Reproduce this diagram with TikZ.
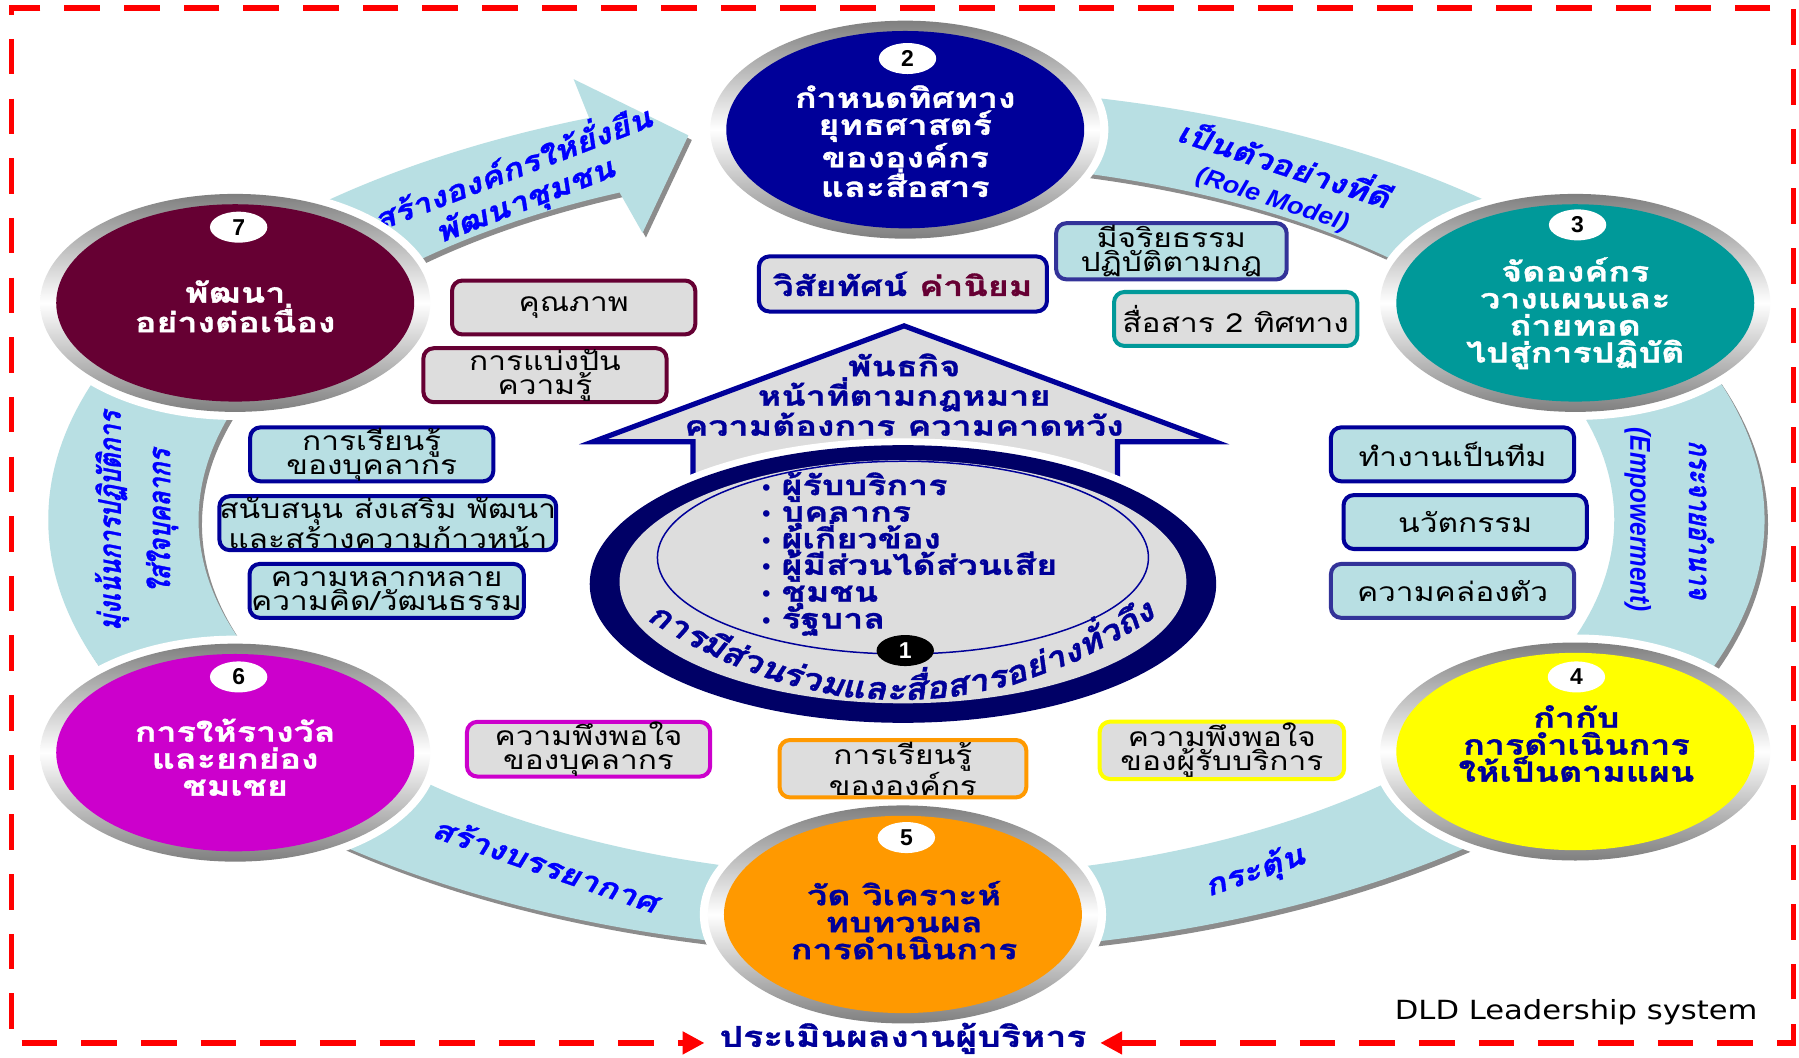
\documentclass[tikz,border=0pt]{standalone}
\usepackage{fontspec}
\usetikzlibrary{arrows.meta,shapes.geometric}
\newfontfamily\thB[Script=Thai,FakeStretch=1.3,BoldFeatures={FakeBold=1.2}]{Loma}
\newfontfamily\thV[Script=Thai,FakeStretch=0.8,FakeSlant=0.2,BoldFeatures={FakeBold=1}]{Loma}
\newfontfamily\thL[Script=Thai,FakeStretch=1.2,FakeSlant=0.22,BoldFeatures={FakeBold=1}]{Loma}
\newfontfamily\thC[Script=Thai,FakeStretch=1.15,FakeSlant=0.22,BoldFeatures={FakeBold=1.2}]{Loma}
\newfontfamily\thR[Script=Thai,FakeStretch=1.2]{Loma}
\newfontfamily\enL[FakeStretch=1.1]{Liberation Sans}
\newfontfamily\enLV[FakeStretch=0.85]{Liberation Sans}
\newfontfamily\enD[FakeStretch=1.16]{DejaVu Sans}
\newfontfamily\numF{Liberation Sans}
\newcommand\ctfont{\thC\bfseries\fontsize{27}{27}\selectfont}
\newlength\chunkw
\definecolor{navy}{HTML}{000099}
\definecolor{darknavy}{HTML}{000066}
\definecolor{navytwo}{HTML}{333399}
\definecolor{bandblue}{HTML}{B8DFE3}
\definecolor{boxgray}{HTML}{DDDDDD}
\definecolor{lblue}{HTML}{0000FF}
\definecolor{cteal}{HTML}{009999}
\definecolor{cyellow}{HTML}{FFFF00}
\definecolor{corange}{HTML}{FF9900}
\definecolor{cmagenta}{HTML}{CC00CC}
\definecolor{cmaroon}{HTML}{660033}
\definecolor{shadowgray}{HTML}{8C8C8C}
\definecolor{ringgray}{HTML}{7F7F7F}
\definecolor{bordred}{HTML}{FF0000}
\newcommand\ringseg[2]{%
 \fill[shadowgray,shift={(3,4)}] plot[domain=#1:#2,samples=60,variable=\ang]({790+748*cos(\ang)},{453+377*sin(\ang)}) -- plot[domain=#2:#1,samples=60,variable=\ang]({790+617*cos(\ang)},{453+312*sin(\ang)}) -- cycle;
 \fill[bandblue] plot[domain=#1:#2,samples=60,variable=\ang]({790+748*cos(\ang)},{453+377*sin(\ang)}) -- plot[domain=#2:#1,samples=60,variable=\ang]({790+617*cos(\ang)},{453+312*sin(\ang)}) -- cycle;
}
\newcommand\stepcircle[3]{%
 \fill[white] (#2) ellipse [x radius=177, y radius=102];
 \shade[top color=ringgray, bottom color=ringgray, middle color=white] (#2) ellipse [x radius=170, y radius=95];
 \node[ellipse, fill=#3, minimum width=312pt, minimum height=172pt, inner sep=0pt] (#1) at (#2) {};
}
\begin{document}
% measure the syllables of the curved text before the picture
\settowidth\chunkw{\ctfont การมีส่วนร่วมและสื่อสารอย่างทั่วถึง}%
\xdef\totwidth{\the\chunkw}%
\def\mkw#1#2{\settowidth\chunkw{\ctfont #2}\expandafter\xdef\csname cw#1\endcsname{\the\chunkw}}%
\mkw{1}{การ}\mkw{2}{มี}\mkw{3}{ส่วน}\mkw{4}{ร่วม}\mkw{5}{และ}%
\mkw{6}{สื่อ}\mkw{7}{สาร}\mkw{8}{อย่าง}\mkw{9}{ทั่ว}\mkw{10}{ถึง}%
\begin{tikzpicture}[x=1pt,y=-1pt,
  ctext/.style={align=center, inner sep=0pt, font=\thB\bfseries\fontsize{24}{23.5}\selectfont},
  badge/.style={ellipse, fill=white, minimum width=50pt, minimum height=27pt, inner sep=0pt, font=\numF\bfseries\fontsize{20}{20}\selectfont},
  infobox/.style={rounded corners=9pt, line width=3.5pt, minimum width=212pt, minimum height=47pt, inner sep=0pt, align=center, text=black, font=\thR\fontsize{23}{21}\selectfont},
  graybox/.style={infobox, fill=boxgray},
  bluebox/.style={infobox, fill=bandblue},
  lbl/.style={text=lblue, align=center, inner sep=0pt, font=\thL\bfseries\fontsize{25}{29}\selectfont},
  vlbl/.style={text=lblue, align=center, inner sep=0pt},
  ctxt/.style={text=navy, inner sep=0pt, font=\ctfont},
  btext/.style={text=navy, inner sep=0pt, anchor=base west, font=\thB\bfseries\fontsize{24}{24}\selectfont},
  bdot/.style={text=navy, inner sep=0pt, anchor=base, font=\numF\bfseries\fontsize{20}{20}\selectfont},
  border/.style={draw=bordred, line width=4.5pt, dash pattern=on 31pt off 21pt, {Triangle[length=19pt,width=19pt]}-{Triangle[length=19pt,width=19pt]}}
]
\useasboundingbox (0,0) rectangle (1568,922);
\fill[white] (0,0) rectangle (1568,922);

% ---- ring bands ----
\ringseg{-90}{-32}
\ringseg{-32}{33}
\ringseg{33}{90}
\ringseg{90}{147}
\ringseg{147}{211}
% arrow from 7 to 2
\fill[shadowgray,shift={(3,4)}] plot[domain=211:248.3,samples=60,variable=\ang]({790+748*cos(\ang)},{453+377*sin(\ang)}) -- (500,69) -- (600,118) -- (560,203) -- plot[domain=246.1:211,samples=60,variable=\ang]({790+617*cos(\ang)},{453+312*sin(\ang)}) -- cycle;
\fill[bandblue] plot[domain=211:248.3,samples=60,variable=\ang]({790+748*cos(\ang)},{453+377*sin(\ang)}) -- (500,69) -- (600,118) -- (560,203) -- plot[domain=246.1:211,samples=60,variable=\ang]({790+617*cos(\ang)},{453+312*sin(\ang)}) -- cycle;

% ---- band labels ----
\node[lbl, rotate=21] (lab72) at (452,160) {สร้างองค์กรให้ยั่งยืน\\พัฒนาชุมชน};
\node[lbl, rotate=-18] (lab23) at (1115,156) {เป็นตัวอย่างที่ดี\\{\enL\bfseries\itshape\fontsize{21}{21}\selectfont (Role Model)}};
\node[vlbl, rotate=-90, font=\thV\bfseries\fontsize{27}{51}\selectfont] (lab34) at (1455,453) {กระจายอำนาจ\\{\enLV\bfseries\itshape\fontsize{25}{25}\selectfont (Empowerment)}};
\node[lbl, rotate=19] (lab45) at (1094,760) {กระตุ้น};
\node[lbl, rotate=-19] (lab56) at (476,753) {สร้างบรรยากาศ};
\node[vlbl, rotate=90, font=\thV\bfseries\fontsize{27}{43}\selectfont] (lab67) at (119,454) {มุ่งเน้นการปฏิบัติการ\\ใส่ใจบุคลากร};

% ---- step circles ----
\stepcircle{c2}{789,113}{navy}
\stepcircle{c3}{1373,264}{cteal}
\stepcircle{c4}{1373,655}{cyellow}
\stepcircle{c5}{787,797}{corange}
\stepcircle{c6}{205,656}{cmagenta}
\stepcircle{c7}{205,264}{cmaroon}

\node[ctext, text=white] (t2) at (789,123) {กำหนดทิศทาง\\ยุทธศาสตร์\\ขององค์กร\\และสื่อสาร};
\node[ctext, text=white] (t3) at (1373,273) {จัดองค์กร\\วางแผนและ\\ถ่ายทอด\\ไปสู่การปฏิบัติ};
\node[ctext, text=navy] (t4) at (1374,648) {กำกับ\\การดำเนินการ\\ให้เป็นตามแผน};
\node[ctext, text=navy] (t5) at (788,802) {วัด วิเคราะห์\\ทบทวนผล\\การดำเนินการ};
\node[ctext, text=white] (t6) at (205,660) {การให้รางวัล\\และยกย่อง\\ชมเชย};
\node[ctext, text=white] (t7) at (205,267) {พัฒนา\\อย่างต่อเนื่อง};

\node[badge] (n2) at (791,51) {2};
\node[badge] (n3) at (1375,196) {3};
\node[badge] (n4) at (1374,590) {4};
\node[badge] (n5) at (790,730) {5};
\node[badge] (n6) at (208,590) {6};
\node[badge] (n7) at (208,198) {7};

% ---- centre: mission house ----
\draw[line width=4.5pt, draw=navy, fill=boxgray, line join=miter] (517,385) -- (788,284) -- (1059,385) -- (974,385) -- (974,450) -- (604,450) -- (604,385) -- cycle;
\node[ctext, text=navy] (mission) at (788,344) {พันธกิจ\\หน้าที่ตามกฎหมาย\\ความต้องการ ความคาดหวัง};

% ---- centre: stakeholder ellipse ----
\fill[white] (787,509) ellipse [x radius=280, y radius=127];
\shade[top color=darknavy, middle color=navy, bottom color=darknavy] (787,509) ellipse [x radius=273, y radius=121];
\node[ellipse, fill=boxgray, minimum width=494pt, minimum height=212pt, inner sep=0pt] (stake) at (787,507) {};
\draw[navy, line width=1.3pt] (787,486) ellipse [x radius=214, y radius=84];

\foreach \i/\yy/\txt in {1/431.5/ผู้รับบริการ, 2/454.7/บุคลากร, 3/478/ผู้เกี่ยวข้อง, 4/501/ผู้มีส่วนได้ส่วนเสีย, 5/524.4/ชุมชน, 6/547.7/รัฐบาล}{
  \node[bdot] (bu\i) at (668,\yy) {•};
  \node[btext] (bt\i) at (681,\yy) {\txt};
}
% curved text along the bottom of the ellipse
\pgfmathsetmacro\totw{\totwidth}
\pgfmathsetmacro\startx{784-0.465*\totw}
\xdef\curx{\startx}
\foreach \wrd [count=\kk] in {การ,มี,ส่วน,ร่วม,และ,สื่อ,สาร,อย่าง,ทั่ว,ถึง}{
  \pgfmathsetmacro\wid{\csname cw\kk\endcsname}
  \pgfmathsetmacro\angA{atan(0.0029*(\curx-784))}
  \pgfmathsetmacro\cx{\curx+0.5*\wid*cos(\angA)}
  \pgfmathsetmacro\ca{atan(0.0029*(\cx-784))}
  \pgfmathsetmacro\cy{610-0.00145*(\cx-784)*(\cx-784)}
  \node[ctxt, anchor=base, rotate=\ca] (w\kk) at (\cx,\cy) {\wrd};
  \pgfmathsetmacro\nx{\cx+0.5*\wid*cos(\ca)}
  \xdef\curx{\nx}
}
\node[badge, fill=black, text=white] (n1) at (789,567) {1};

% ---- info boxes ----
\node[graybox, draw=navy, minimum width=251pt, minimum height=48pt, font=\thB\bfseries\fontsize{24}{24}\selectfont] (vis) at (787,247.5) {\textcolor{navy}{วิสัยทัศน์} \textcolor{cmaroon}{ค่านิยม}};
\node[graybox, draw=cmaroon] (q1) at (500,268) {คุณภาพ};
\node[graybox, draw=cmaroon] (q2) at (475,327) {การแบ่งปัน\\ความรู้};
\node[bluebox, draw=navy] (q3) at (324,396) {การเรียนรู้\\ของบุคลากร};
\node[bluebox, draw=navy, minimum width=287pt] (q4) at (338,456) {สนับสนุน ส่งเสริม พัฒนา\\และสร้างความก้าวหน้า};
\node[bluebox, draw=navy, minimum width=239pt] (q5) at (337,515) {ความหลากหลาย\\ความคิด/วัฒนธรรม};
\node[graybox, draw=cmagenta] (q6) at (513,653) {ความพึงพอใจ\\ของบุคลากร};
\node[graybox, draw=corange, minimum width=215pt, minimum height=50pt] (q7) at (787,670) {การเรียนรู้\\ขององค์กร};
\node[graybox, draw=cyellow, minimum width=213pt, minimum height=50pt] (q8) at (1065,654) {ความพึงพอใจ\\ของผู้รับบริการ};
\node[bluebox, draw=navy] (q9) at (1266,396) {ทำงานเป็นทีม};
\node[bluebox, draw=navy] (q10) at (1277,455) {นวัตกรรม};
\node[bluebox, draw=navytwo] (q11) at (1266,515) {ความคล่องตัว};
\node[bluebox, draw=navytwo, minimum width=201pt, minimum height=49pt] (q12) at (1021,219) {มีจริยธรรม\\ปฏิบัติตามกฎ};
\node[graybox, draw=cteal] (q13) at (1077,278) {สื่อสาร 2 ทิศทาง};

% ---- frame and footer ----
\coordinate (fbl) at (10,909);
\coordinate (ftl) at (10,7);
\coordinate (ftr) at (1563,7);
\coordinate (fbr) at (1563,909);
\coordinate (fla) at (614,909);
\coordinate (fra) at (959,909);
\draw[border] (fra) -- (fbr) -- (ftr) -- (ftl) -- (fbl) -- (fla);
\node[text=navy, inner sep=0pt, font=\thB\bfseries\fontsize{25}{25}\selectfont] (eval) at (787,905) {ประเมินผลงานผู้บริหาร};
\node[anchor=base east, inner sep=0pt, font=\enD\fontsize{23}{23}\selectfont] (dld) at (1532,889) {DLD Leadership system};
\end{tikzpicture}
\end{document}
